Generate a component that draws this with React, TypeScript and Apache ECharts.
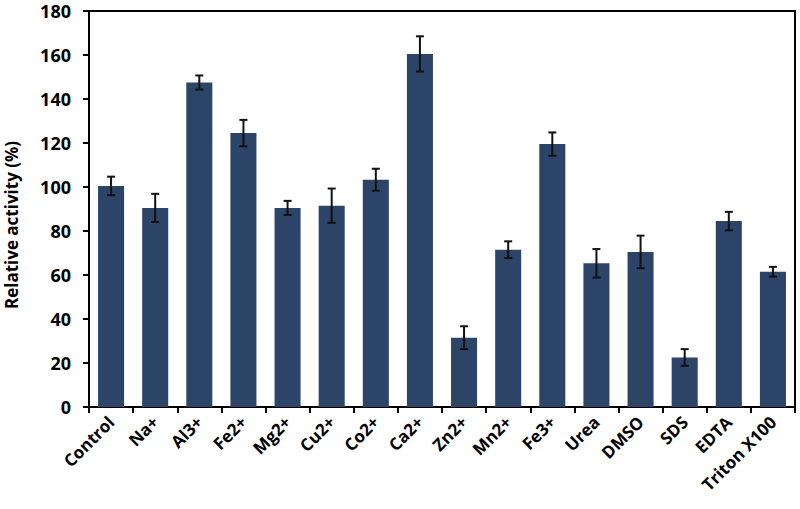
import React, { useEffect, useRef } from "react";
import * as echarts from "echarts";

const categories = ["Control", "Na+", "Al3+", "Fe2+", "Mg2+", "Cu2+", "Co2+", "Ca2+", "Zn2+", "Mn2+", "Fe3+", "Urea", "DMSO", "SDS", "EDTA", "Triton X100"];
const activity = [100.5, 90.5, 147.5, 124.5, 90.5, 91.5, 103.3, 160.5, 31.5, 71.5, 119.5, 65.3, 70.5, 22.5, 84.5, 61.5];
const errors = [4.2, 6.4, 3.2, 6, 3.2, 7.8, 5, 8, 5.2, 3.8, 5.3, 6.5, 7.4, 3.8, 4.2, 2.2];
const yTicks = { min: 0, max: 180, interval: 20 };
const yTitle = "Relative activity (%)";

export default function App() {
  const ref = useRef<HTMLDivElement>(null);
  useEffect(() => {
    if (!ref.current) return;
    const chart = echarts.init(ref.current, null, { renderer: "svg" });
    const font = "Open Sans";
    const errData = categories.map((c, i) => [i, activity[i] - errors[i], activity[i] + errors[i]]);
    chart.setOption({
      animation: false,
      backgroundColor: "#ffffff",
      grid: { left: 89, right: 5, top: 11, bottom: 102, show: true, borderColor: "#000", borderWidth: 2, containLabel: false },
      graphic: [
        {
          type: "text",
          x: 11,
          y: 225,
          rotation: Math.PI / 2,
          style: {
            text: yTitle,
            fill: "#000",
            font: `bold 17px "${font}"`,
            textAlign: "center",
            textVerticalAlign: "middle",
          },
        },
      ],
      xAxis: {
        type: "category",
        data: categories,
        axisLine: { lineStyle: { color: "#000", width: 2 } },
        axisTick: { show: true, alignWithLabel: false, length: 6, lineStyle: { color: "#000", width: 2 } },
        axisLabel: { rotate: 45, interval: 0, margin: 12, color: "#000", fontFamily: font, fontWeight: "bold", fontSize: 17 },
      },
      yAxis: {
        type: "value",
        min: yTicks.min,
        max: yTicks.max,
        interval: yTicks.interval,
        splitLine: { show: false },
        axisLine: { show: true, lineStyle: { color: "#000", width: 2 } },
        axisTick: { show: true, length: 6, lineStyle: { color: "#000", width: 2 } },
        axisLabel: { margin: 18, color: "#000", fontFamily: font, fontWeight: "bold", fontSize: 18, lineHeight: 18 },
      },
      series: [
        {
          type: "bar",
          data: activity,
          barWidth: "59%",
          itemStyle: { color: "#2b4467" },
          z: 2,
        },
        {
          type: "custom",
          data: errData,
          z: 3,
          renderItem: (params: any, api: any) => {
            const x = api.value(0);
            const lo = api.coord([x, api.value(1)]);
            const hi = api.coord([x, api.value(2)]);
            const half = 4;
            const style = { stroke: "#111", lineWidth: 2 };
            return {
              type: "group",
              children: [
                { type: "line", shape: { x1: lo[0], y1: lo[1], x2: hi[0], y2: hi[1] }, style },
                { type: "line", shape: { x1: hi[0] - half, y1: hi[1], x2: hi[0] + half, y2: hi[1] }, style },
                { type: "line", shape: { x1: lo[0] - half, y1: lo[1], x2: lo[0] + half, y2: lo[1] }, style },
              ],
            };
          },
        },
      ],
    });
    return () => chart.dispose();
  }, []);
  return <div ref={ref} style={{ position: "fixed", left: 0, top: 0, width: 800, height: 509 }} />;
}
